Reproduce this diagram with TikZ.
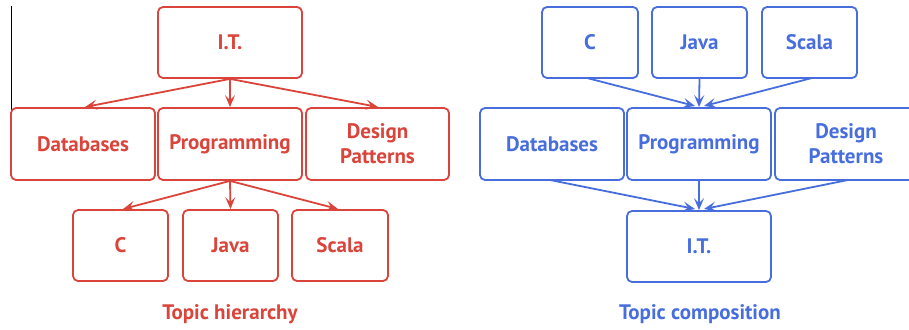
\documentclass[tikz,border=0pt]{standalone}
\usepackage{fontspec}
\setmainfont{PT Sans}
\usetikzlibrary{arrows.meta}
\definecolor{redc}{RGB}{218,68,58}
\definecolor{bluec}{RGB}{72,110,222}
\begin{document}
\begin{tikzpicture}[x=1pt,y=-1pt,
  box/.style={draw,rounded corners=5pt,line width=1.8pt,inner sep=0pt,
    font=\fontsize{21}{25}\selectfont\bfseries,align=center},
  conn/.style={line width=1.8pt,-{Stealth[length=12pt,width=10pt,inset=5pt]}},
  captext/.style={font=\fontsize{21}{25}\selectfont\bfseries}]
\useasboundingbox (0,0) rectangle (909,329);
\clip (0,0) rectangle (909,329);
% artifact line
\draw[line width=1pt,black] (11,6) -- (11,165);
% ---------- left: hierarchy ----------
\begin{scope}[redc,text=redc]
\node[box,minimum width=144pt,minimum height=71pt] (LIT) at (230,42.5) {I.T.};
\node[box,minimum width=144pt,minimum height=72pt] (LDB) at (83,144) {Databases};
\node[box,minimum width=144pt,minimum height=72pt] (LPR) at (230,144) {Programming};
\node[box,minimum width=143pt,minimum height=72pt] (LDP) at (377.5,144) {Design\\Patterns};
\node[box,minimum width=95pt,minimum height=71pt] (LC) at (120.5,245.5) {C};
\node[box,minimum width=95pt,minimum height=71pt] (LJ) at (230.5,245.5) {Java};
\node[box,minimum width=96pt,minimum height=71pt] (LS) at (340,245.5) {Scala};
\node[captext] (LCAP) at (230,314) {Topic hierarchy};
\coordinate (lt) at (LIT.south);
\coordinate (lp) at (LPR.south);
\draw[conn] (lt) -- (85,107);
\draw[conn] (lt) -- (LPR.north);
\draw[conn] (lt) -- (378,107);
\draw[conn] (lp) -- (123,209);
\draw[conn] (lp) -- (LJ.north);
\draw[conn] (lp) -- (338,209);
\end{scope}
% ---------- right: composition ----------
\begin{scope}[bluec,text=bluec]
\node[box,minimum width=96pt,minimum height=71pt] (RC) at (590,42.5) {C};
\node[box,minimum width=95pt,minimum height=71pt] (RJ) at (699.5,42.5) {Java};
\node[box,minimum width=95pt,minimum height=71pt] (RS) at (809.5,42.5) {Scala};
\node[box,minimum width=144pt,minimum height=72pt] (RDB) at (552,144) {Databases};
\node[box,minimum width=144pt,minimum height=72pt] (RPR) at (699,144) {Programming};
\node[box,minimum width=144pt,minimum height=72pt] (RDP) at (847,144) {};
\node[font=\fontsize{21}{25}\selectfont\bfseries,align=center] (RDPT) at (846,144) {Design\\Patterns};
\node[box,minimum width=144pt,minimum height=71pt] (RIT) at (699,246.5) {I.T.};
\node[captext] (RCAP) at (700,314) {Topic composition};
\coordinate (rc) at (587,78);
\coordinate (rs) at (812,78);
\coordinate (rd) at (550,180);
\coordinate (rp) at (848,180);
\draw[conn] (rc) -- (695,106);
\draw[conn] (RJ.south) -- (RPR.north);
\draw[conn] (rs) -- (704,106);
\draw[conn] (rd) -- (695,209);
\draw[conn] (RPR.south) -- (RIT.north);
\draw[conn] (rp) -- (704,209);
\end{scope}
\end{tikzpicture}
\end{document}
